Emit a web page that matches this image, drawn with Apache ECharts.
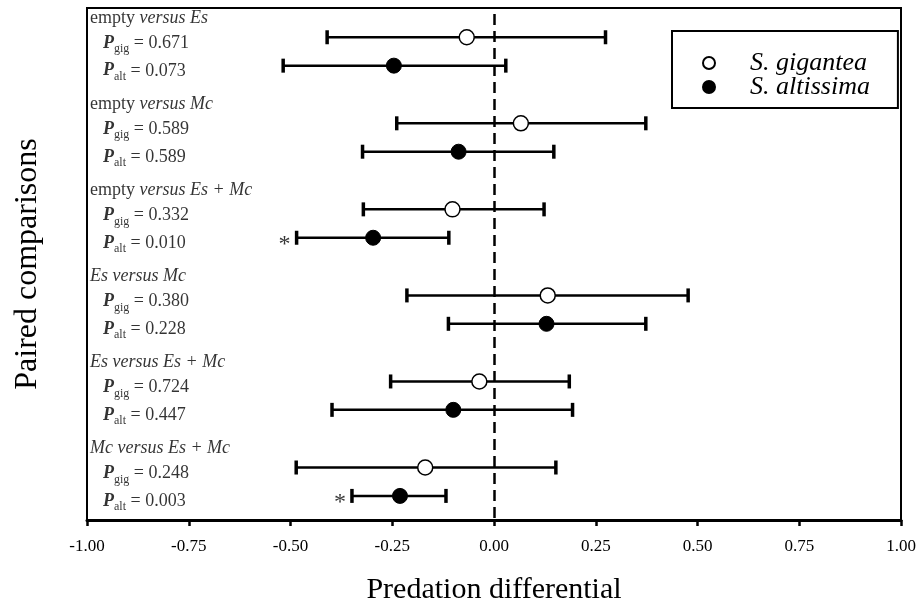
<!DOCTYPE html>
<html>
<head>
<meta charset="utf-8">
<script src="https://cdn.jsdelivr.net/npm/echarts@6/dist/echarts.min.js"></script>
<style>
  html, body { margin: 0; padding: 0; background: #fff; }
  #chart { width: 922px; height: 615px; }
</style>
</head>
<body>
<div id="chart"></div>
<script>
// comparison headers: [roman part, italic part]
var headers = [
  ["empty ", "versus Es"],
  ["empty ", "versus Mc"],
  ["empty ", "versus Es + Mc"],
  ["", "Es versus Mc"],
  ["", "Es versus Es + Mc"],
  ["", "Mc versus Es + Mc"]
];
var pGig = ["0.671", "0.589", "0.332", "0.380", "0.724", "0.248"];
var pAlt = ["0.073", "0.589", "0.010", "0.228", "0.447", "0.003"];

// S. gigantea: mean, lower, upper
var gigMean = [-0.067, 0.066, -0.102, 0.132, -0.036, -0.169];
var gigLow  = [-0.410, -0.239, -0.321, -0.214, -0.254, -0.486];
var gigHigh = [0.274, 0.373, 0.123, 0.477, 0.185, 0.152];

// S. altissima: mean, lower, upper
var altMean = [-0.246, -0.087, -0.297, 0.129, -0.100, -0.231];
var altLow  = [-0.518, -0.323, -0.485, -0.112, -0.398, -0.349];
var altHigh = [0.029, 0.147, -0.111, 0.373, 0.193, -0.118];

var serif = "Liberation Serif";
var gigOff = 0.34, altOff = 0.67;

var chart = echarts.init(document.getElementById("chart"));

function barData(low, high, off) {
  return low.map(function (lo, i) { return [lo, high[i], i + off]; });
}

function errorBar(params, api) {
  var y = api.value(2);
  var a = api.coord([api.value(0), y]);
  var b = api.coord([api.value(1), y]);
  var h = 7;
  var st = { stroke: "#000", lineWidth: 2.5 };
  var cap = { stroke: "#000", lineWidth: 3.5 };
  return {
    type: "group",
    children: [
      { type: "line", shape: { x1: a[0], y1: a[1], x2: b[0], y2: b[1] }, style: st },
      { type: "line", shape: { x1: a[0], y1: a[1] - h, x2: a[0], y2: a[1] + h }, style: cap },
      { type: "line", shape: { x1: b[0], y1: b[1] - h, x2: b[0], y2: b[1] + h }, style: cap }
    ]
  };
}

var richP = {
  p: { fontFamily: serif, fontStyle: "italic", fontWeight: "bold", fontSize: 18, lineHeight: 24, color: "#000" },
  s: { fontFamily: serif, fontSize: 12, lineHeight: 12, verticalAlign: "bottom", color: "#000" },
  t: { fontFamily: serif, fontSize: 18, lineHeight: 24, color: "#000" },
  r: { fontFamily: serif, fontSize: 18, lineHeight: 20, color: "#000" },
  i: { fontFamily: serif, fontStyle: "italic", fontSize: 18, lineHeight: 20, color: "#000" }
};

var textData = [];
headers.forEach(function (h, i) {
  var hd = (h[0] ? "{r|" + h[0] + "}" : "") + "{i|" + h[1] + "}";
  textData.push({ value: [-1, i + 0.115], label: { formatter: hd, distance: 3 } });
  textData.push({ value: [-1, i + 0.41], label: { formatter: "{p|P}{s|gig}{t| = " + pGig[i] + "}", distance: 16 } });
  textData.push({ value: [-1, i + 0.73], label: { formatter: "{p|P}{s|alt}{t| = " + pAlt[i] + "}", distance: 16 } });
});

var starData = [];
pAlt.forEach(function (p, i) {
  if (parseFloat(p) < 0.05) starData.push([altLow[i], i + altOff]);
});
pGig.forEach(function (p, i) {
  if (parseFloat(p) < 0.05) starData.push([gigLow[i], i + gigOff]);
});

var option = {
  animation: false,
  backgroundColor: "#fff",
  grid: {
    left: 87, right: 21, top: 8, bottom: 95,
    show: true, borderColor: "#000", borderWidth: 2
  },
  legend: {
    orient: "vertical",
    left: 672, top: 31,
    padding: [19, 28, 8, 30],
    itemGap: -2,
    itemWidth: 12, itemHeight: 12,
    borderColor: "#000", borderWidth: 2,
    data: ["S. gigantea", "S. altissima"],
    textStyle: { fontFamily: serif, fontStyle: "italic", fontSize: 26, color: "#000", padding: [0, 0, 0, 30] }
  },
  xAxis: {
    type: "value",
    min: -1, max: 1, interval: 0.25,
    name: "Predation differential",
    nameLocation: "middle",
    nameGap: 55,
    nameTextStyle: { fontFamily: serif, fontSize: 30, color: "#000" },
    axisLine: { show: true, onZero: false, lineStyle: { color: "#000", width: 3 } },
    axisTick: { show: true, length: 6, lineStyle: { color: "#000", width: 2.5 } },
    axisLabel: {
      fontFamily: serif, fontSize: 17, color: "#000", margin: 18,
      formatter: function (v) { return v.toFixed(2); }
    },
    splitLine: { show: false }
  },
  yAxis: {
    type: "value",
    inverse: true,
    min: 0, max: 5.95,
    name: "Paired comparisons",
    nameLocation: "middle",
    nameGap: 43,
    nameTextStyle: { fontFamily: serif, fontSize: 32, color: "#000" },
    axisLine: { show: false },
    axisTick: { show: false },
    axisLabel: { show: false },
    splitLine: { show: false }
  },
  series: [
    {
      name: "gigBars",
      type: "custom",
      renderItem: errorBar,
      data: barData(gigLow, gigHigh, gigOff),
      z: 2,
      markLine: {
        silent: true,
        symbol: "none",
        label: { show: false },
        lineStyle: { color: "#000", width: 2.5, type: [11, 6] },
        data: [[{ coord: [0, 0.07] }, { coord: [0, 5.95] }]]
      }
    },
    {
      name: "altBars",
      type: "custom",
      renderItem: errorBar,
      data: barData(altLow, altHigh, altOff),
      z: 2
    },
    {
      name: "S. gigantea",
      type: "scatter",
      symbol: "circle",
      symbolSize: 15,
      itemStyle: { color: "#fff", borderColor: "#000", borderWidth: 1.5, opacity: 1 },
      data: gigMean.map(function (m, i) { return [m, i + gigOff]; }),
      z: 5
    },
    {
      name: "S. altissima",
      type: "scatter",
      symbol: "circle",
      symbolSize: 15,
      itemStyle: { color: "#000", borderColor: "#000", borderWidth: 1, opacity: 1 },
      data: altMean.map(function (m, i) { return [m, i + altOff]; }),
      z: 5
    },
    {
      name: "stars",
      type: "scatter",
      symbolSize: 0,
      silent: true,
      label: {
        show: true, position: "left", distance: 6, offset: [0, 7],
        formatter: "*", fontFamily: serif, fontSize: 24, color: "#000"
      },
      data: starData
    },
    {
      name: "texts",
      type: "scatter",
      symbolSize: 0,
      silent: true,
      label: { show: true, position: "right", rich: richP },
      data: textData
    }
  ]
};

chart.setOption(option);
</script>
</body>
</html>
